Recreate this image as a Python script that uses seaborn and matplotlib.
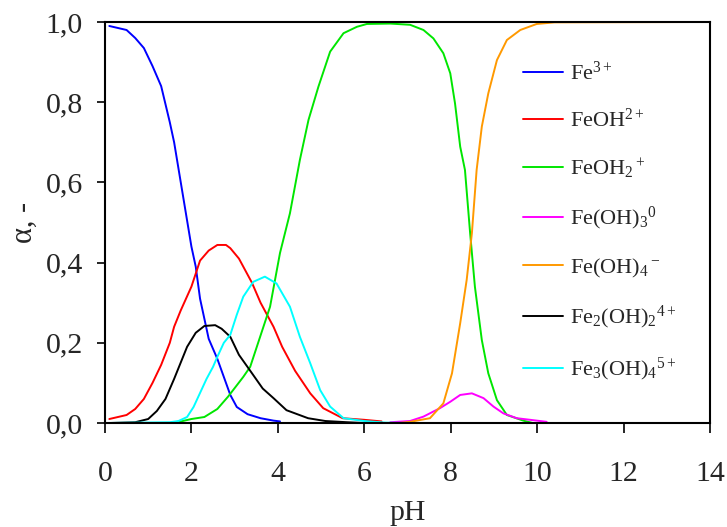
import matplotlib
matplotlib.use('Agg')
import matplotlib.pyplot as plt
import seaborn as sns
import pandas as pd

# pH / alpha readings for each species
ph_fe3 = [0.1, 0.3, 0.5, 0.7, 0.9, 1.1, 1.3, 1.5, 1.6, 1.8, 2.0, 2.1, 2.2, 2.4, 2.6, 2.8, 2.9, 3.05, 3.3, 3.6, 3.9, 4.05]
a_fe3 = [0.99, 0.985, 0.98, 0.96, 0.935, 0.89, 0.84, 0.75, 0.70, 0.57, 0.44, 0.39, 0.31, 0.21, 0.16, 0.10, 0.07, 0.04, 0.022, 0.012, 0.006, 0.004]

ph_feoh = [0.1, 0.3, 0.5, 0.7, 0.9, 1.1, 1.3, 1.5, 1.6, 1.75, 2.0, 2.2, 2.4, 2.6, 2.8, 2.9, 3.1, 3.2, 3.4, 3.6, 3.9, 4.1, 4.4, 4.75, 5.05, 5.5, 6.0, 6.4]
a_feoh = [0.01, 0.015, 0.02, 0.035, 0.06, 0.1, 0.145, 0.2, 0.24, 0.28, 0.34, 0.405, 0.43, 0.444, 0.444, 0.436, 0.41, 0.39, 0.35, 0.30, 0.24, 0.19, 0.13, 0.074, 0.037, 0.012, 0.008, 0.004]

ph_feoh2 = [0.0, 1.5, 1.8, 2.0, 2.3, 2.6, 2.85, 3.2, 3.36, 3.59, 3.82, 4.05, 4.28, 4.51, 4.71, 4.94, 5.21, 5.52, 5.83, 6.06, 6.6, 7.06, 7.37, 7.6, 7.83, 7.99, 8.1, 8.22, 8.33, 8.45, 8.56, 8.72, 8.87, 9.07, 9.3, 9.68, 9.9, 14.0]
a_feoh2 = [0.0, 0.0, 0.005, 0.01, 0.015, 0.035, 0.066, 0.115, 0.14, 0.215, 0.29, 0.424, 0.523, 0.656, 0.756, 0.839, 0.926, 0.972, 0.988, 0.995, 0.996, 0.993, 0.98, 0.959, 0.922, 0.872, 0.797, 0.689, 0.631, 0.473, 0.34, 0.207, 0.124, 0.057, 0.02, 0.006, 0.0, 0.0]

ph_feoh3 = [6.6, 7.06, 7.37, 7.75, 7.99, 8.22, 8.49, 8.76, 8.99, 9.22, 9.53, 9.84, 10.22]
a_feoh3 = [0.002, 0.005, 0.016, 0.037, 0.053, 0.07, 0.074, 0.062, 0.041, 0.024, 0.012, 0.008, 0.003]

ph_feoh4 = [0.0, 6.8, 7.06, 7.52, 7.83, 8.03, 8.22, 8.37, 8.49, 8.6, 8.72, 8.87, 9.07, 9.3, 9.61, 9.99, 10.4, 14.0]
a_feoh4 = [0.0, 0.0, 0.003, 0.012, 0.049, 0.124, 0.249, 0.357, 0.473, 0.631, 0.739, 0.822, 0.905, 0.955, 0.98, 0.995, 0.999, 1.0]

ph_fe2 = [0.1, 0.7, 1.0, 1.2, 1.4, 1.6, 1.75, 1.9, 2.1, 2.3, 2.55, 2.7, 2.9, 3.1, 3.35, 3.65, 3.9, 4.2, 4.7, 5.1, 5.6, 6.0]
a_fe2 = [0.0, 0.002, 0.01, 0.03, 0.06, 0.11, 0.15, 0.19, 0.225, 0.242, 0.244, 0.235, 0.215, 0.17, 0.132, 0.086, 0.062, 0.032, 0.012, 0.005, 0.002, 0.0]

ph_fe3oh = [0.0, 1.5, 1.7, 1.9, 2.05, 2.2, 2.35, 2.5, 2.6, 2.75, 2.9, 3.05, 3.2, 3.43, 3.7, 3.97, 4.28, 4.51, 4.75, 4.98, 5.21, 5.52, 6.0, 6.5, 7.0, 14.0]
a_fe3oh = [0.0, 0.002, 0.005, 0.015, 0.04, 0.075, 0.11, 0.14, 0.165, 0.2, 0.22, 0.27, 0.315, 0.352, 0.365, 0.348, 0.29, 0.215, 0.149, 0.082, 0.041, 0.012, 0.005, 0.001, 0.0, 0.0]

species = [r'Fe$^{3+}$', r'FeOH$^{2+}$', r'FeOH$_2$$^+$', r'Fe(OH)$_3$$^0$',
           r'Fe(OH)$_4$$^-$', r'Fe$_2$(OH)$_2$$^{4+}$', r'Fe$_3$(OH)$_4$$^{5+}$']
colors = ['#0000ff', '#ff0000', '#00e600', '#ff00ff', '#ff9900', '#000000', '#00ffff']

x_ticks = [0, 2, 4, 6, 8, 10, 12, 14]
y_ticks = [0.0, 0.2, 0.4, 0.6, 0.8, 1.0]
y_ticklabels = ['0,0', '0,2', '0,4', '0,6', '0,8', '1,0']

series = [(ph_fe3, a_fe3), (ph_feoh, a_feoh), (ph_feoh2, a_feoh2), (ph_feoh3, a_feoh3),
          (ph_feoh4, a_feoh4), (ph_fe2, a_fe2), (ph_fe3oh, a_fe3oh)]

sns.set_style('ticks')
plt.rcParams['font.family'] = ['Liberation Serif', 'DejaVu Serif']
plt.rcParams['mathtext.fontset'] = 'custom'
plt.rcParams['mathtext.rm'] = 'Liberation Serif'
plt.rcParams['mathtext.it'] = 'Liberation Serif'
plt.rcParams['mathtext.default'] = 'rm'

fig = plt.figure(figsize=(7.27, 5.27), dpi=100)
ax = fig.add_axes([0.1444, 0.1973, 0.8322, 0.761])

for (ph, a), name, col in zip(series, species, colors):
    df = pd.DataFrame({'pH': ph, 'alpha': a})
    sns.lineplot(data=df, x='pH', y='alpha', color=col, linewidth=1.4, label=name, ax=ax)

ax.set_xlim(0, 14)
ax.set_ylim(0, 1.0)
ax.set_xticks(x_ticks)
ax.set_yticks(y_ticks)
ax.set_yticklabels(y_ticklabels)
ax.tick_params(labelsize=21.5, width=1.2, direction='out', color='black')
ax.tick_params(axis='x', length=7, pad=20)
ax.tick_params(axis='y', length=6, pad=10)
for s in ax.spines.values():
    s.set_color('black')
    s.set_linewidth(1.5)
ax.set_xlabel('pH', fontsize=21.5, labelpad=10)
ax.set_ylabel('α, -', fontsize=22, labelpad=5)

ax.legend(loc='upper left', bbox_to_anchor=(0.672, 0.93), frameon=False, fontsize=16,
          handlelength=1.8, handletextpad=0.35, labelspacing=1.1, borderpad=0)

fig.savefig('out.png', dpi=100)
